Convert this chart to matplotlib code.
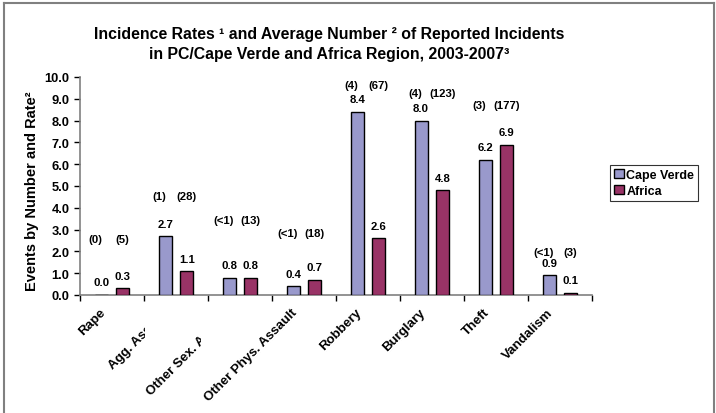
import matplotlib
matplotlib.use("Agg")
import matplotlib.pyplot as plt
import numpy as np
from matplotlib.lines import Line2D
from matplotlib.transforms import Bbox, blended_transform_factory

plt.rcParams['font.family'] = ['Liberation Sans', 'DejaVu Sans']
plt.rcParams['font.weight'] = 'bold'

categories = ["Rape", "Agg. Assault", "Other Sex. Assault", "Other Phys. Assault",
              "Robbery", "Burglary", "Theft", "Vandalism"]
cape_verde = [0.0, 2.7, 0.8, 0.4, 8.4, 8.0, 6.2, 0.9]
africa = [0.3, 1.1, 0.8, 0.7, 2.6, 4.8, 6.9, 0.1]
cv_counts = ["(0)", "(1)", "(<1)", "(<1)", "(4)", "(4)", "(3)", "(<1)"]
af_counts = ["(5)", "(28)", "(13)", "(18)", "(67)", "(123)", "(177)", "(3)"]
count_label_y = [2.57, 4.54, 3.44, 2.84, 9.63, 9.27, 8.7, 1.97]
yticks = np.arange(0, 10.01, 1.0)

# label clipping (pixel x limit) as in the original export
label_clip_px = {1: 145, 2: 201}

W, H = 716, 414
fig = plt.figure(figsize=(W / 100, H / 100), dpi=100)
ax = fig.add_axes([80 / W, 1 - 296 / H, 512 / W, 218 / H])

x = np.arange(len(categories))
off, bw = 0.17, 0.2
c_cv, c_af = "#9999CC", "#993366"
ax.bar(x - off, cape_verde, bw, color=c_cv, edgecolor="black", linewidth=1.0,
       label="Cape Verde", zorder=3)
ax.bar(x + off, africa, bw, color=c_af, edgecolor="black", linewidth=1.0,
       label="Africa", zorder=3)

for i in range(len(categories)):
    for xx, v in ((x[i] - off, cape_verde[i]), (x[i] + off, africa[i])):
        ax.annotate(f"{v:.1f}", (xx, v), xytext=(0, 9.0), textcoords="offset points",
                    ha="center", va="center", fontsize=8.2, fontweight="bold")
    ax.text(x[i] - 0.26, count_label_y[i], cv_counts[i], ha="center", va="center",
            fontsize=8.2, fontweight="bold")
    ax.text(x[i] + 0.16, count_label_y[i], af_counts[i], ha="center", va="center",
            fontsize=8.2, fontweight="bold")

ax.set_xlim(-0.5, len(categories) - 0.5)
ax.set_ylim(0, 10)
ax.set_yticks(yticks)
ax.set_yticklabels([f"{t:.1f}" for t in yticks], fontsize=9.3, fontweight="bold")
ax.set_xticks(np.arange(-0.5, len(categories), 1.0))
ax.set_xticklabels([])
ax.tick_params(axis="both", direction="out", length=4, width=1, color="black")
for s in ("top", "right"):
    ax.spines[s].set_visible(False)
for s in ("left", "bottom"):
    ax.spines[s].set_color("#808080")
    ax.spines[s].set_linewidth(1.2)

trans = blended_transform_factory(ax.transData, ax.transAxes)
for i, lab in enumerate(categories):
    t = ax.text(x[i] - 0.2, -0.05, lab, transform=trans, rotation=45,
                rotation_mode="anchor", ha="right", va="top", fontsize=9.5,
                fontweight="bold", clip_on=False)
    if i in label_clip_px:
        t.set_clip_on(True)
        t.set_clip_box(Bbox.from_extents(0, 0, label_clip_px[i], H))

fig.text(32 / W, 1 - 191 / H, "Events by Number and Rate²", rotation=90,
         ha="center", va="center", fontsize=10.5, fontweight="bold")

fig.text(329 / W, 1 - 35 / H, "Incidence Rates ¹ and Average Number ² of Reported Incidents",
         ha="center", va="center", fontsize=11.4, fontweight="bold")
fig.text(329 / W, 1 - 55 / H, "in PC/Cape Verde and Africa Region, 2003-2007³",
         ha="center", va="center", fontsize=11.4, fontweight="bold")

leg = ax.legend(loc="upper left", bbox_to_anchor=(610 / W, 1 - 166 / H),
                bbox_transform=fig.transFigure, fontsize=9, frameon=True,
                fancybox=False, edgecolor="black", handlelength=0.8,
                handleheight=0.8, handletextpad=0.2, borderpad=0.3,
                labelspacing=0.3, borderaxespad=0)
leg.get_frame().set_linewidth(0.8)
for t in leg.get_texts():
    t.set_fontweight("bold")

# outer frame
fc = "#808080"
fig.add_artist(Line2D([4 / W, 714 / W], [1 - 4 / H, 1 - 4 / H], color=fc, lw=1.5,
                      transform=fig.transFigure))
fig.add_artist(Line2D([4 / W, 4 / W], [0, 1 - 4 / H], color=fc, lw=1.5,
                      transform=fig.transFigure))
fig.add_artist(Line2D([714 / W, 714 / W], [0, 1 - 4 / H], color=fc, lw=1.5,
                      transform=fig.transFigure))

fig.savefig("out.png", dpi=100)
